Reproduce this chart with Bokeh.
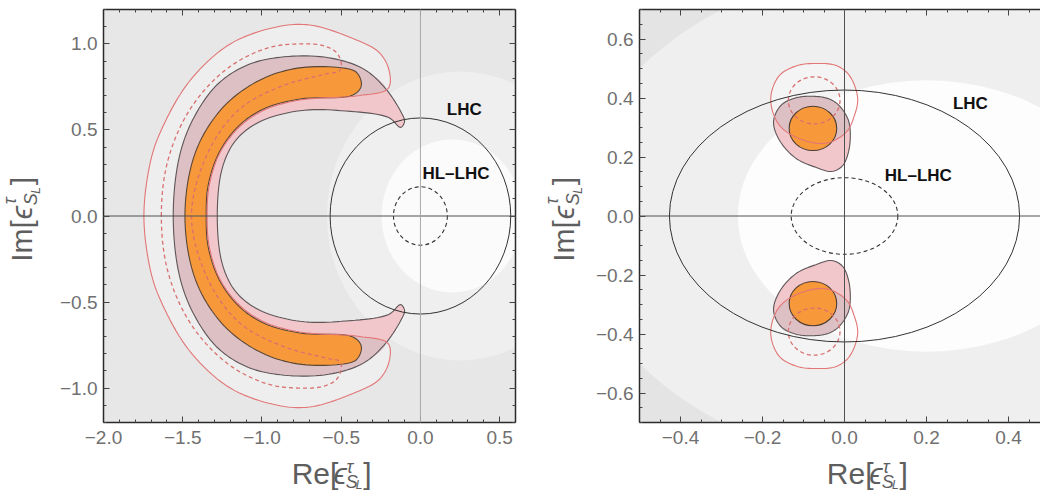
import numpy as np
from bokeh.plotting import figure
from bokeh.models import Range1d, FixedTicker, LinearAxis, Span
from bokeh.layouts import row, column
from bokeh.embed import file_html
from bokeh.resources import INLINE
from bokeh.core.properties import value

# ---------------- data ----------------
left_x_ticks = [-2.0, -1.5, -1.0, -0.5, 0.0, 0.5]
left_y_ticks = [-1.0, -0.5, 0.0, 0.5, 1.0]
right_x_ticks = [-0.4, -0.2, 0.0, 0.2, 0.4]
right_y_ticks = [-0.6, -0.4, -0.2, 0.0, 0.2, 0.4, 0.6]

# LHC (solid) and HL-LHC (dashed) bounds: circle radii around the origin
left_lhc_r, left_hllhc_r = 0.57, 0.17
right_lhc_r, right_hllhc_r = 0.427, 0.13

# background shading levels (circle centre on the real axis, radius)
left_bg_cx, left_bg_r = [0.25, 0.20], [0.84, 0.445]
right_bg_cx, right_bg_r = [0.20, 0.20], [0.86, 0.46]

# ---- left panel contours (upper half, mirrored for y<0) ----
pink_outer_x = [-1.560, -1.520, -1.425, -1.275, -1.085, -0.860, -0.580, -0.360, -0.220, -0.120, -0.100]
pink_outer_y = [0.000, 0.350, 0.580, 0.770, 0.880, 0.925, 0.920, 0.855, 0.740, 0.600, 0.550]
pink_inner_x = [-0.125, -0.200, -0.470, -0.760, -1.020, -1.165, -1.250, -1.282]
pink_inner_y = [0.515, 0.572, 0.610, 0.612, 0.545, 0.440, 0.280, 0.000]
orange_outer_x = [-1.486, -1.420, -1.255, -1.040, -0.803, -0.530, -0.404, -0.373]
orange_outer_y = [0.000, 0.370, 0.622, 0.777, 0.855, 0.864, 0.835, 0.758]
orange_inner_x = [-0.426, -0.761, -0.990, -1.145, -1.270, -1.340, -1.352]
orange_inner_y = [0.703, 0.680, 0.622, 0.525, 0.370, 0.176, 0.000]
red_outer_x = [-1.745, -1.705, -1.640, -1.460, -1.200, -0.900, -0.700, -0.450, -0.260, -0.195, -0.205]
red_outer_y = [0.000, 0.310, 0.490, 0.780, 1.000, 1.100, 1.110, 1.040, 0.950, 0.835, 0.740]
red_inner_x = [-0.384, -0.761, -0.985, -1.140, -1.265, -1.333, -1.346]
red_inner_y = [0.700, 0.674, 0.616, 0.520, 0.368, 0.176, 0.000]
dash_outer_x = [-1.635, -1.600, -1.490, -1.335, -1.160, -0.950, -0.761, -0.614, -0.530, -0.499]
dash_outer_y = [0.000, 0.300, 0.564, 0.760, 0.894, 0.980, 1.000, 0.990, 0.950, 0.884]
dash_inner_x = [-0.510, -0.593, -0.866, -1.140, -1.340, -1.445]
dash_inner_y = [0.845, 0.826, 0.758, 0.622, 0.370, 0.000]

# ---- right panel contours (upper blob, mirrored for y<0) ----
rblob_red_x = [-0.069, -0.020, 0.012, 0.032, 0.024, 0.004, -0.045, -0.110, -0.160, -0.180, -0.159, -0.115]
rblob_red_y = [0.517, 0.510, 0.476, 0.400, 0.340, 0.284, 0.247, 0.262, 0.310, 0.397, 0.476, 0.510]
rblob_pink_x = [-0.080, -0.040, -0.015, 0.008, 0.014, 0.010, -0.005, -0.031, -0.070, -0.120, -0.160, -0.173, -0.155, -0.120]
rblob_pink_y = [0.406, 0.398, 0.377, 0.330, 0.287, 0.219, 0.170, 0.151, 0.165, 0.197, 0.260, 0.321, 0.375, 0.400]
rblob_orange = dict(cx=-0.077, cy=0.297, w=0.116, h=0.150)
rblob_dash = dict(cx=-0.074, cy=0.392, w=0.126, h=0.160)

# text labels
left_text = dict(x=[0.277, 0.224], y=[0.617, 0.249], text=["LHC", "HL\u2013LHC"])
right_text = dict(x=[0.307, 0.180], y=[0.380, 0.137], text=["LHC", "HL\u2013LHC"])

# ---------------- styling ----------------
PINK = "#f1c7cb"
PINK_GREY = "#dcc0c4"
ORANGE = "#f7993a"
RED = "#e27575"
DASH_RED = "#d97070"
DARK = "#5e5558"
FONT = "Liberation Sans"
TICK_COL = "#707070"
LABEL_COL = "#5e5e5e"
MID = 0.35  # distance (in em) from the alphabetic baseline up to the text middle


def fmt(t):
    return ("\u2212" if t < 0 else "") + f"{abs(t):.1f}"


def cr_closed(xs, ys, sx, sy, n=10):
    P = np.column_stack([np.asarray(xs, float) * sx, np.asarray(ys, float) * sy])
    N = len(P)
    out = []
    for i in range(N):
        p0, p1, p2, p3 = P[(i - 1) % N], P[i], P[(i + 1) % N], P[(i + 2) % N]
        t0 = 0.0
        t1 = t0 + max(np.linalg.norm(p1 - p0), 1e-9) ** 0.5
        t2 = t1 + max(np.linalg.norm(p2 - p1), 1e-9) ** 0.5
        t3 = t2 + max(np.linalg.norm(p3 - p2), 1e-9) ** 0.5
        t = np.linspace(t1, t2, n, endpoint=False)[:, None]
        A1 = (t1 - t) / (t1 - t0) * p0 + (t - t0) / (t1 - t0) * p1
        A2 = (t2 - t) / (t2 - t1) * p1 + (t - t1) / (t2 - t1) * p2
        A3 = (t3 - t) / (t3 - t2) * p2 + (t - t2) / (t3 - t2) * p3
        B1 = (t2 - t) / (t2 - t0) * A1 + (t - t0) / (t2 - t0) * A2
        B2 = (t3 - t) / (t3 - t1) * A2 + (t - t1) / (t3 - t1) * A3
        C = (t2 - t) / (t2 - t1) * B1 + (t - t1) / (t2 - t1) * B2
        out.append(C)
    Q = np.vstack(out)
    return Q[:, 0] / sx, Q[:, 1] / sy


def mirror_full(xs, ys):
    xs, ys = list(xs), list(ys)
    return xs + xs[-2:0:-1], ys + [-y for y in ys[-2:0:-1]]


def crescent(ox, oy, ix, iy, sx, sy):
    fx, fy = mirror_full(list(ox) + list(ix), list(oy) + list(iy))
    return cr_closed(fx, fy, sx, sy)


def clip_poly(subj, clip):
    def area(P):
        return 0.5 * np.sum(P[:, 0] * np.roll(P[:, 1], -1) - np.roll(P[:, 0], -1) * P[:, 1])
    if area(clip) < 0:
        clip = clip[::-1]
    out = [tuple(p) for p in subj]
    n = len(clip)
    for i in range(n):
        a, b = clip[i], clip[(i + 1) % n]
        inp, out = out, []
        if not inp:
            break

        def inside(p):
            return (b[0] - a[0]) * (p[1] - a[1]) - (b[1] - a[1]) * (p[0] - a[0]) >= 0

        def inter(p, q):
            x1, y1 = p; x2, y2 = q; x3, y3 = a; x4, y4 = b
            den = (x1 - x2) * (y3 - y4) - (y1 - y2) * (x3 - x4)
            tt = ((x1 - x3) * (y3 - y4) - (y1 - y3) * (x3 - x4)) / den
            return (x1 + tt * (x2 - x1), y1 + tt * (y2 - y1))

        s = inp[-1]
        for e in inp:
            if inside(e):
                if not inside(s):
                    out.append(inter(s, e))
                out.append(e)
            elif inside(s):
                out.append(inter(s, e))
            s = e
    return np.array(out)


def ticker(major, step_minor, lo, hi):
    minors = [round(v, 3) for v in np.arange(lo, hi + 1e-9, step_minor)]
    return FixedTicker(ticks=major, minor_ticks=minors)


def style_axis(ax, ticks, minor_step, lo, hi, labels=True):
    ax.ticker = ticker(ticks, minor_step, lo, hi)
    ax.axis_line_color = "#2a2a2a"
    ax.axis_line_width = 1.5
    ax.major_tick_in = 6
    ax.major_tick_out = 0
    ax.minor_tick_in = 3
    ax.minor_tick_out = 0
    ax.major_tick_line_color = "#444444"
    ax.minor_tick_line_color = "#444444"
    ax.axis_label = None
    if labels:
        ax.major_label_overrides = {t: fmt(t) for t in ticks}
        ax.major_label_text_font = FONT
        ax.major_label_text_font_size = "19px"
        ax.major_label_text_color = TICK_COL
    else:
        ax.major_label_text_color = None
        ax.major_label_text_font_size = "1px"
        ax.major_label_standoff = 0


def make_fig(xr, yr, w, h, bl, br, bb, bg):
    p = figure(x_range=Range1d(*xr), y_range=Range1d(*yr), width=w, height=h, title=None,
               min_border_left=bl, min_border_right=br, min_border_top=9, min_border_bottom=bb,
               output_backend="svg", toolbar_location=None, background_fill_color=bg,
               border_fill_color="white")
    p.grid.visible = False
    p.outline_line_color = None
    return p


def strip(w, h):
    s = figure(x_range=Range1d(0, w), y_range=Range1d(0, h), width=w, height=h, title=None,
               min_border_left=0, min_border_right=0, min_border_top=0, min_border_bottom=0,
               x_axis_location=None, y_axis_location=None,
               output_backend="svg", toolbar_location=None, border_fill_color="white",
               background_fill_color="white")
    s.grid.visible = False
    s.outline_line_color = None
    return s


def math_label(s, base, base_em, ax, ay, rotated, big=30, sup_raise=15.0, sub_drop=6.0, subsub_drop=9.0):
    # ax, ay: start of the baseline centre line (strip pixels); pieces are anchored at their middle
    k = big / 30.0
    base_w = base_em * big
    pieces = [(base + "[", big, "normal", 0.0, 0.0),
              ("\u03f5", big, "italic", base_w + 1.0 * k, 0.0),
              ("\u03c4", 18, "italic", base_w + 16.0 * k, sup_raise),
              ("S", 18, "italic", base_w + 15.0 * k, -sub_drop),
              ("L", 12, "italic", base_w + 26.5 * k, -subsub_drop),
              ("]", big, "normal", base_w + 35.0 * k, 0.0)]
    total = base_w + 43.0 * k
    for text, size, style, a, r in pieces:
        a0 = a - total / 2
        up = r + MID * size
        if rotated:
            x, y, ang = ax - up, ay + a0, np.pi / 2
        else:
            x, y, ang = ax + a0, ay + up, 0.0
        s.text(x=[x], y=[y], text=[text], angle=ang, text_font=value(FONT),
               text_font_size=f"{size}px", text_font_style=style, text_color=LABEL_COL,
               text_align="left", text_baseline="middle")


# ================= left panel =================
LSX, LSY = 158.5, 172.0
p1 = make_fig((-2.0, 0.6), (-1.2, 1.2), 470, 455, 53, 5, 33, "#e7e7e7")
p1.ellipse(x=[left_bg_cx[0]], y=[0], width=[2 * left_bg_r[0]], height=[2 * left_bg_r[0]],
           fill_color="#efefef", line_color=None)
p1.ellipse(x=[left_bg_cx[1]], y=[0], width=[2 * left_bg_r[1]], height=[2 * left_bg_r[1]],
           fill_color="#fbfbfb", line_color=None)

rx, ry = crescent(red_outer_x, red_outer_y, red_inner_x, red_inner_y, LSX, LSY)
gx, gy = crescent(pink_outer_x, pink_outer_y, pink_inner_x, pink_inner_y, LSX, LSY)
ix, iy = crescent(pink_outer_x[:9], pink_outer_y[:9], red_inner_x, red_inner_y, LSX, LSY)
ox, oy = crescent(orange_outer_x, orange_outer_y, orange_inner_x, orange_inner_y, LSX, LSY)
dx, dy = crescent(dash_outer_x, dash_outer_y, dash_inner_x, dash_inner_y, LSX, LSY)

p1.patch(rx, ry, fill_color="white", fill_alpha=0.3, line_color=None)
p1.patch(gx, gy, fill_color=PINK, line_color=None)
p1.patch(ix, iy, fill_color=PINK_GREY, line_color=None)
p1.patch(ox, oy, fill_color=ORANGE, line_color=None)
p1.patch(gx, gy, fill_color=None, line_color=DARK, line_width=1.1)
p1.patch(ox, oy, fill_color=None, line_color="#5a4636", line_width=1.1)
p1.patch(rx, ry, fill_color=None, line_color=RED, line_width=1.1)
p1.patch(dx, dy, fill_color=None, line_color=DASH_RED, line_width=1.3, line_dash="4 3")

p1.ellipse(x=[0], y=[0], width=[2 * left_lhc_r], height=[2 * left_lhc_r],
           fill_color=None, line_color="#333333", line_width=1)
p1.ellipse(x=[0], y=[0], width=[2 * left_hllhc_r], height=[2 * left_hllhc_r],
           fill_color=None, line_color="#333333", line_width=1.1, line_dash="4 3")

p1.add_layout(Span(location=0, dimension="width", line_color="#505050", line_width=1))
p1.add_layout(Span(location=0, dimension="height", line_color="#a8a8a8", line_width=1))

p1.text(x=left_text["x"], y=left_text["y"], text=left_text["text"], text_font=value(FONT),
        text_font_style="bold", text_font_size="17px", text_align="center",
        text_baseline="middle", text_color="#111111")

style_axis(p1.xaxis[0], left_x_ticks, 0.1, -2.0, 0.6)
style_axis(p1.yaxis[0], left_y_ticks, 0.1, -1.2, 1.2)
p1.xaxis[0].major_label_standoff = 8
p1.yaxis[0].major_label_standoff = 6
top1 = LinearAxis(); style_axis(top1, left_x_ticks, 0.1, -2.0, 0.6, labels=False)
right1 = LinearAxis(); style_axis(right1, left_y_ticks, 0.1, -1.2, 1.2, labels=False)
p1.add_layout(top1, "above")
p1.add_layout(right1, "right")

# ================= right panel =================
RSX, RSY = 410.0, 295.0
p2 = make_fig((-0.5, 0.478), (-0.7, 0.7), 450, 455, 49, 0, 33, "#e4e4e4")
p2.ellipse(x=[right_bg_cx[0]], y=[0], width=[2 * right_bg_r[0]], height=[2 * right_bg_r[0]],
           fill_color="#efefef", line_color=None)
p2.ellipse(x=[right_bg_cx[1]], y=[0], width=[2 * right_bg_r[1]], height=[2 * right_bg_r[1]],
           fill_color="#fdfdfd", line_color=None)

bx, by = cr_closed(rblob_red_x, rblob_red_y, RSX, RSY)
px_, py_ = cr_closed(rblob_pink_x, rblob_pink_y, RSX, RSY)
inter = clip_poly(np.column_stack([px_ * RSX, py_ * RSY]), np.column_stack([bx * RSX, by * RSY]))
ibx, iby = inter[:, 0] / RSX, inter[:, 1] / RSY

for sgn in (1, -1):
    p2.patch(bx, sgn * by, fill_color="white", fill_alpha=0.3, line_color=None)
    p2.patch(px_, sgn * py_, fill_color=PINK, line_color=None)
    p2.patch(ibx, sgn * iby, fill_color=PINK_GREY, line_color=None)
    p2.ellipse(x=[rblob_orange["cx"]], y=[sgn * rblob_orange["cy"]], width=[rblob_orange["w"]],
               height=[rblob_orange["h"]], fill_color=ORANGE, line_color="#4e3d30", line_width=1.1)
    p2.patch(px_, sgn * py_, fill_color=None, line_color=DARK, line_width=1.1)
    p2.patch(bx, sgn * by, fill_color=None, line_color=RED, line_width=1.1)
    p2.ellipse(x=[rblob_dash["cx"]], y=[sgn * rblob_dash["cy"]], width=[rblob_dash["w"]],
               height=[rblob_dash["h"]], fill_color=None, line_color=DASH_RED,
               line_width=1.3, line_dash="4 3")

p2.ellipse(x=[0], y=[0], width=[2 * right_lhc_r], height=[2 * right_lhc_r],
           fill_color=None, line_color="#333333", line_width=1)
p2.ellipse(x=[0], y=[0], width=[2 * right_hllhc_r], height=[2 * right_hllhc_r],
           fill_color=None, line_color="#333333", line_width=1.1, line_dash="4 3")

p2.add_layout(Span(location=0, dimension="width", line_color="#505050", line_width=1))
p2.add_layout(Span(location=0, dimension="height", line_color="#505050", line_width=1))

p2.text(x=right_text["x"], y=right_text["y"], text=right_text["text"], text_font=value(FONT),
        text_font_style="bold", text_font_size="17px", text_align="center",
        text_baseline="middle", text_color="#111111")

style_axis(p2.xaxis[0], right_x_ticks, 0.05, -0.5, 0.45)
style_axis(p2.yaxis[0], right_y_ticks, 0.05, -0.7, 0.7)
p2.xaxis[0].major_label_standoff = 8
p2.yaxis[0].major_label_standoff = 6
top2 = LinearAxis(); style_axis(top2, right_x_ticks, 0.05, -0.5, 0.45, labels=False)
p2.add_layout(top2, "above")

# ================= axis-title strips =================
ylab1 = strip(50, 492)
math_label(ylab1, "Im", 1.389, 31, 273, True)
xlab1 = strip(470, 37)
math_label(xlab1, "Re", 1.556, 259.5, 8.5, False, big=30, sup_raise=11.0, sub_drop=4.0, subsub_drop=5.0)
ylab2 = strip(70, 492)
math_label(ylab2, "Im", 1.389, 53, 273, True)
xlab2 = strip(450, 37)
math_label(xlab2, "Re", 1.556, 255, 8.5, False, big=30, sup_raise=11.0, sub_drop=4.0, subsub_drop=5.0)

layout = row(ylab1, column(p1, xlab1, spacing=0), ylab2, column(p2, xlab2, spacing=0), spacing=0)
open("out.html", "w").write(file_html(layout, INLINE))
